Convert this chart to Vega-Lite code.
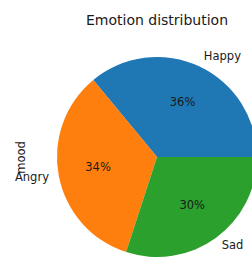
{
  "$schema": "https://vega.github.io/schema/vega-lite/v6.json",
  "autosize": "none",
  "width": 254,
  "height": 234,
  "padding": {"left": 30, "top": 40, "right": 0, "bottom": 0},
  "background": "white",
  "title": {"text": "Emotion distribution", "fontSize": 14, "font": "DejaVu Sans", "fontWeight": "normal", "color": "#1a1a1a", "frame": "group", "anchor": "middle", "offset": 12},
  "data": {"values": [
    {"mood": "Happy", "frac": 0.36, "i": 1},
    {"mood": "Angry", "frac": 0.34, "i": 2},
    {"mood": "Sad", "frac": 0.30, "i": 3}
  ]},
  "encoding": {
    "theta": {"field": "frac", "type": "quantitative", "stack": true, "scale": {"domain": [0, 1], "range": [1.5708, -4.7124]}},
    "order": {"field": "i", "type": "quantitative"}
  },
  "layer": [
    {
      "mark": {"type": "arc", "outerRadius": 100, "stroke": null},
      "encoding": {
        "color": {"field": "mood", "type": "nominal", "legend": null, "scale": {"domain": ["Happy", "Angry", "Sad"], "range": ["#1f77b4", "#ff7f0e", "#2ca02c"]}}
      }
    },
    {
      "mark": {"type": "text", "radius": 60, "font": "DejaVu Sans", "fontSize": 11.5, "color": "#1a1a1a", "align": "center", "baseline": "middle"},
      "encoding": {"text": {"field": "frac", "type": "quantitative", "format": ".0%"}}
    },
    {
      "mark": {"type": "text", "radius": 110, "font": "DejaVu Sans", "fontSize": 11.5, "color": "#1a1a1a", "baseline": "middle", "align": {"expr": "datum.mood === 'Angry' ? 'right' : 'left'"}},
      "encoding": {"text": {"field": "mood", "type": "nominal"}}
    },
    {
      "mark": {"type": "rule", "strokeOpacity": 0},
      "encoding": {
        "y": {"datum": 0, "type": "quantitative", "axis": {"title": "mood", "labels": false, "ticks": false, "domain": false, "grid": false, "titleFont": "DejaVu Sans", "titleFontSize": 11.5, "titleFontWeight": "normal", "titleColor": "#1a1a1a", "titlePadding": 4, "minExtent": 0}}
      }
    }
  ],
  "config": {"view": {"stroke": null}}
}
